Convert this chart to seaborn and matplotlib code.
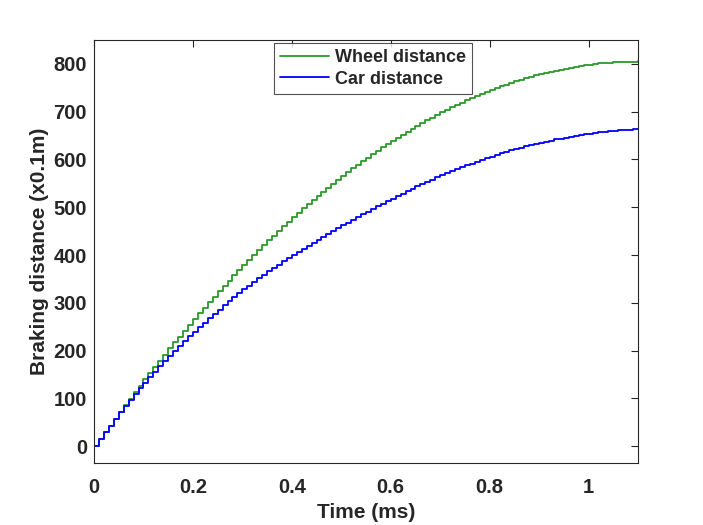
import numpy as np
import pandas as pd
import matplotlib
matplotlib.use("Agg")
import matplotlib.pyplot as plt
import seaborn as sns

# Sample times (ms), one step every 0.01 ms
time_ms = [round(i * 0.01, 2) for i in range(111)]

wheel_distance = [
    0.0, 14.6, 29.0, 43.3, 57.5, 71.5, 85.4, 99.2, 112.9, 126.4, 139.7,
    153.0, 166.1, 179.1, 191.9, 204.6, 217.2, 229.6, 242.0, 254.1, 266.2,
    278.1, 289.9, 301.5, 313.0, 324.4, 335.7, 346.8, 357.7, 368.6, 379.3,
    389.9, 400.3, 410.7, 420.8, 430.9, 440.8, 450.6, 460.2, 469.7, 479.1,
    488.4, 497.5, 506.5, 515.3, 524.0, 532.6, 541.1, 549.4, 557.6, 565.6,
    573.5, 581.3, 589.0, 596.5, 603.9, 611.1, 618.3, 625.2, 632.1, 638.8,
    645.4, 651.9, 658.2, 664.4, 670.4, 676.4, 682.1, 687.8, 693.3, 698.7,
    704.0, 709.1, 714.1, 719.0, 723.7, 728.3, 732.7, 737.0, 741.2, 745.3,
    749.2, 753.0, 756.7, 760.2, 763.6, 766.8, 770.0, 773.0, 775.8, 778.5,
    781.1, 783.6, 785.9, 788.1, 790.2, 792.1, 793.9, 795.6, 797.1, 798.5,
    799.8, 800.9, 801.9, 802.7, 803.5, 804.1, 804.5, 804.8, 805.0, 805.1,
]

car_distance = [
    0.0, 14.6, 29.1, 43.4, 57.4, 71.0, 84.2, 97.0, 109.4, 121.4, 133.1,
    144.8, 156.3, 167.5, 178.5, 189.3, 199.9, 210.2, 220.2, 229.8, 239.0,
    248.7, 258.2, 267.6, 276.8, 285.9, 294.8, 303.5, 312.0, 320.3, 328.4,
    336.2, 343.8, 351.2, 358.5, 365.7, 372.8, 379.8, 386.7, 393.4, 400.0,
    406.5, 412.9, 419.3, 425.6, 431.8, 438.0, 444.1, 450.1, 456.1, 462.0,
    467.8, 473.6, 479.3, 485.0, 490.6, 496.2, 501.7, 507.2, 512.6, 518.0,
    523.3, 528.5, 533.6, 538.6, 543.5, 548.4, 553.2, 557.9, 562.5, 567.0,
    571.4, 575.7, 579.9, 583.9, 587.8, 591.6, 595.3, 598.9, 602.5, 606.0,
    609.4, 612.7, 615.9, 618.9, 621.8, 624.6, 627.3, 629.9, 632.5, 635.0,
    637.4, 639.7, 641.9, 643.9, 645.8, 647.6, 649.3, 650.9, 652.5, 654.0,
    655.4, 656.7, 657.9, 659.0, 660.0, 661.0, 661.9, 662.7, 663.4, 664.0,
]

series_names = ["Wheel distance", "Car distance"]
x_ticks = [0, 0.2, 0.4, 0.6, 0.8, 1.0]
x_tick_labels = ["0", "0.2", "0.4", "0.6", "0.8", "1"]
y_ticks = [0, 100, 200, 300, 400, 500, 600, 700, 800]

df = pd.DataFrame({
    "Time": time_ms * 2,
    "Distance": wheel_distance + car_distance,
    "Series": [series_names[0]] * len(time_ms) + [series_names[1]] * len(time_ms),
})

sns.set_style("white")
plt.rcParams["font.family"] = ["Liberation Sans", "DejaVu Sans"]
plt.rcParams["font.weight"] = "bold"

fig = plt.figure(figsize=(7.03, 5.25), dpi=100)
ax = fig.add_axes([94 / 703, 1 - 463 / 525, 544 / 703, 423 / 525])

palette = {series_names[0]: "#2a982a", series_names[1]: "#0000ff"}
sns.lineplot(data=df, x="Time", y="Distance", hue="Series", palette=palette,
             drawstyle="steps-post", linewidth=1.3, ax=ax, estimator=None,
             sort=False)

ax.set_xlim(0, 1.1)
ax.set_ylim(-35, 850)
ax.set_xticks(x_ticks)
ax.set_xticklabels(x_tick_labels)
ax.set_yticks(y_ticks)
ax.tick_params(axis="both", which="both", direction="in", length=5, width=0.8,
               top=True, right=True, labelsize=14.5, colors="#262626")
ax.tick_params(axis="y", pad=5)
ax.tick_params(axis="x", pad=11)
for lab in ax.get_xticklabels() + ax.get_yticklabels():
    lab.set_fontweight("bold")
    lab.set_color("#262626")
for s in ax.spines.values():
    s.set_visible(True)
    s.set_color("#262626")
    s.set_linewidth(0.8)

ax.set_xlabel("Time (ms)", fontsize=15, fontweight="bold", color="#262626", labelpad=4)
ax.set_ylabel("Braking distance (x0.1m)", fontsize=15, fontweight="bold", color="#262626", labelpad=3)

leg = ax.legend(loc="upper center", bbox_to_anchor=(0.513, 0.993), frameon=True,
                fancybox=False, fontsize=13, handlelength=2.7, borderpad=0.35,
                labelspacing=0.25, handletextpad=0.3, borderaxespad=0, title=None)
leg.get_frame().set_edgecolor("#262626")
leg.get_frame().set_linewidth(0.8)
for t in leg.get_texts():
    t.set_fontweight("bold")

fig.savefig("out.png", dpi=100, facecolor="white")
